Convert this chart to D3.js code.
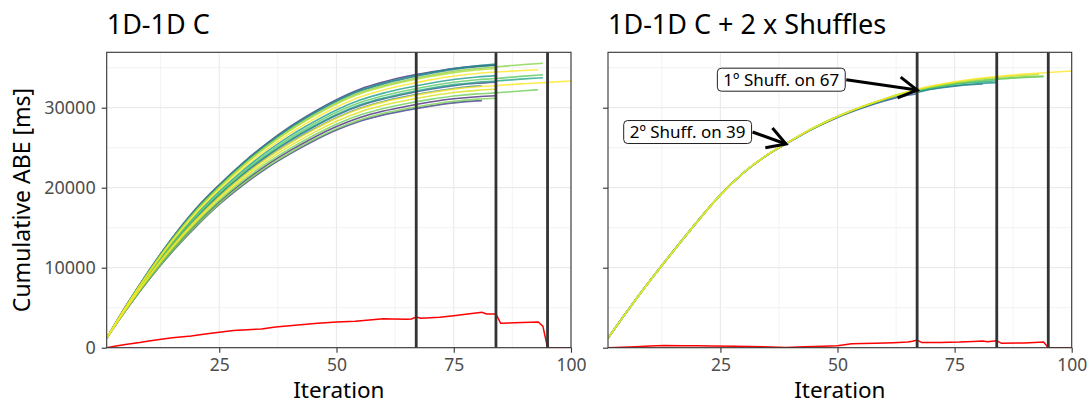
<!DOCTYPE html>
<html><head><meta charset="utf-8">
<script src="https://cdn.jsdelivr.net/npm/d3@7"></script>
<style>body{margin:0;background:#fff}svg{display:block;font-family:"Noto Sans",sans-serif}</style>
</head><body><svg id="c" width="1091" height="405"></svg>
<script>
// ---------------- DATA ----------------
const panelTitles = ["1D-1D C", "1D-1D C + 2 x Shuffles"];
const xLabel = "Iteration";
const yLabel = "Cumulative ABE [ms]";
const xTicks = [25, 50, 75, 100];
const xMinor = [12.5, 37.5, 62.5, 87.5];
const yTicks = [0, 10000, 20000, 30000];
const yMinor = [5000, 15000, 25000, 35000];
const shuffleIters = [67, 84, 95];

// iterations shared by the first part of every left series
const leftIters = [1,5,10,15,20,25,30,35,40,45,50,55,60,65,70,75,80];
const leftVals = [
  [1200,5115,9630,13750,17370,20370,23080,25490,27600,29410,31010,32320,33220,33920,34450,34900,35200],
  [1200,4660,8632,12204,15364,18188,20624,22760,24596,26220,27644,28768,29580,30192,30704,31116,31378],
  [1200,4600,8500,12000,15100,17900,20300,22400,24200,25800,27200,28300,29100,29700,30200,30600,30850],
  [1200,4850,9050,12850,16200,19100,21650,23900,25850,27550,29050,30250,31100,31750,32300,32750,33050],
  [1200,5085,9567,13649,17234,20228,22919,25310,27401,29195,30789,32083,32980,33677,34274,34771,35118],
  [1200,4810,8962,12714,16024,18908,21434,23660,25586,27270,28754,29938,30780,31422,31964,32406,32698],
  [1200,5100,9600,13700,17300,20300,23000,25400,27500,29300,30900,32200,33100,33800,34400,34900,35250],
  [1200,4940,9248,13156,16596,19532,22136,24440,26444,28180,29716,30952,31820,32488,33056,33524,33842],
  [1200,4865,9083,12901,16266,19172,21731,23990,25949,27655,29161,30367,31220,31873,32426,32879,33182],
  [1200,4900,9160,13020,16420,19340,21920,24200,26180,27900,29420,30640,31500,32160,32720,33180,33490],
  [1200,4700,8720,12340,15540,18380,20840,23000,24860,26500,27940,29080,29900,30520,31040,31460,31730],
  [1200,4625,8555,12085,15210,18020,20435,22550,24365,25975,27385,28495,29300,29905,30410,30815,31070],
  [1200,5060,9512,13564,17124,20108,22784,25160,27236,29020,30604,31888,32780,33472,34064,34556,34898],
  [1200,5040,9468,13496,17036,20012,22676,25040,27104,28880,30456,31732,32620,33308,33896,34384,34722],
  [1200,4750,8830,12510,15760,18620,21110,23300,25190,26850,28310,29470,30300,30930,31460,31890,32170],
  [1200,4990,9358,13326,16816,19772,22406,24740,26774,28530,30086,31342,32220,32898,33476,33954,34282],
  [1200,4800,8940,12680,15980,18860,21380,23600,25520,27200,28680,29860,30700,31340,31880,32320,32610]
];
// final [iteration, value] points of every left series
const leftTails = [
  [[84,35350]],
  [[84,31490]],
  [[81,30880]],
  [[84,33200]],
  [[84,35315]],
  [[81,32720]],
  [[84,35450]],
  [[84,34010]],
  [[84,33335],[85,33380],[90,33600],[94,33750]],
  [[84,33650],[85,33700],[90,33950],[94,34100]],
  [[84,31850],[85,31900],[90,32120],[93,32250]],
  [[84,31175]],
  [[84,35090],[85,35150],[90,35400],[94,35550]],
  [[84,34910]],
  [[84,32300]],
  [[84,34460],[85,34490],[90,34650],[93,34750]],
  [[84,32750],[85,32800],[90,33000],[95,33170],[100,33330]]
];
const leftColors = ["#482878","#472c7a","#414487","#3b528b","#2c728e","#26828e","#21918c","#1f9e89",
                    "#22a884","#5ec962","#6ece58","#7ad151","#86d549","#addc30","#d8e219","#fde725","#fde725"];

const rightIters = [1,5,10,15,20,25,30,35,40,45,50,55,60,65];
const rightVals = [
  [1200,4500,8430,12140,15740,19120,21900,24080,25800,27420,28780,29900,30850,31550],
  [1200,4490,8410,12110,15710,19110,21910,24100,25840,27480,28850,30000,30980,31780],
  [1200,4480,8400,12100,15700,19100,21900,24100,25850,27500,28870,30020,31000,31830],
  [1200,4470,8390,12090,15690,19090,21890,24090,25850,27510,28890,30060,31060,31920],
  [1200,4480,8400,12100,15700,19100,21900,24100,25850,27500,28880,30050,31050,31920],
  [1200,4490,8410,12110,15710,19100,21900,24100,25860,27510,28890,30070,31070,31950],
  [1200,4480,8400,12100,15700,19100,21910,24110,25860,27520,28900,30080,31090,31980],
  [1200,4480,8400,12100,15700,19100,21900,24110,25870,27520,28910,30090,31100,32000]
];
const rightTails = [
  [[67,31750]],
  [[67,31950],[70,32300],[75,32700],[80,32930],[81,32960]],
  [[67,32000],[70,32350],[75,32750],[80,33000],[84,33130]],
  [[67,32100],[70,32480],[75,32950],[80,33200],[84,33350]],
  [[67,32150],[70,32500],[75,32950],[80,33300],[84,33550],[90,33780],[94,33880]],
  [[67,32200],[70,32580],[75,33050],[80,33400],[84,33620],[90,33850],[94,33960]],
  [[67,32250],[70,32650],[75,33150],[80,33550],[84,33800],[90,34050],[93,34150]],
  [[67,32300],[70,32700],[75,33250],[80,33650],[84,33900],[90,34200],[95,34400],[100,34590]]
];
const rightColors = ["#3b528b","#2a788e","#21908d","#22a884","#5ec962","#7ad151","#b5de2b","#fde725"];

// red difference line
const leftRedIters = [1,3,5,8,10,13,15,19,22,25,28,31,34,37,40,43,46,50,54,57,60,62,65,66,67,68,72,75,78,81,82,84,85,88,93,94,95,100];
const leftRedVals  = [0,200,400,650,850,1100,1250,1450,1700,1920,2150,2250,2350,2600,2750,2900,3050,3200,3300,3450,3620,3580,3550,3600,3830,3680,3800,4000,4200,4420,4220,4220,3050,3120,3220,2700,0,0];
const rightRedIters = [1,4,7,10,13,17,20,23,28,34,39,43,47,50,53,58,62,65,66,67,68,72,76,79,81,82,84,85,90,94,95,100];
const rightRedVals  = [0,60,130,220,290,250,240,210,170,120,30,120,180,250,480,560,620,700,800,960,640,650,700,780,830,750,880,550,590,720,0,0];

const annotTexts = ["1º Shuff. on 67", "2º Shuff. on 39"];
const annotIters = [67, 39];
const annotValues = [32200, 25460];

// ---------------- LAYOUT ----------------
const yTop = 52.3, yBot = 347.7, yMax = 36925;
const labelPos = [[38, 33500], [18, 26960]]; // label centres in data units
const panels = [
  {x0: 106.7, x1: 571, iters: leftIters, vals: leftVals, tails: leftTails, colors: leftColors,
   redI: leftRedIters, redV: leftRedVals, yLabels: true, annot: false},
  {x0: 608, x1: 1071.7, iters: rightIters, vals: rightVals, tails: rightTails, colors: rightColors,
   redI: rightRedIters, redV: rightRedVals, yLabels: false, annot: true}
];

const svg = d3.select("#c");
const grid = "#ebebeb", dark = "#333333", tickTxt = "#4d4d4d";

panels.forEach((p, pi) => {
  const x = d3.scaleLinear().domain([1, 100]).range([p.x0, p.x1]);
  const y = d3.scaleLinear().domain([0, yMax]).range([yBot, yTop]);
  const g = svg.append("g");
  const clipId = "clip" + pi;
  svg.append("clipPath").attr("id", clipId).append("rect")
    .attr("x", p.x0).attr("y", yTop).attr("width", p.x1 - p.x0).attr("height", yBot - yTop);

  // grid
  g.selectAll(".xm").data(xMinor).join("line").attr("x1", d => x(d)).attr("x2", d => x(d))
    .attr("y1", yTop).attr("y2", yBot).attr("stroke", grid).attr("stroke-width", 0.6);
  g.selectAll(".ym").data(yMinor).join("line").attr("y1", d => y(d)).attr("y2", d => y(d))
    .attr("x1", p.x0).attr("x2", p.x1).attr("stroke", grid).attr("stroke-width", 0.6);
  g.selectAll(".xM").data(xTicks).join("line").attr("x1", d => x(d)).attr("x2", d => x(d))
    .attr("y1", yTop).attr("y2", yBot).attr("stroke", grid).attr("stroke-width", 1.2);
  g.selectAll(".yM").data(yTicks).join("line").attr("y1", d => y(d)).attr("y2", d => y(d))
    .attr("x1", p.x0).attr("x2", p.x1).attr("stroke", grid).attr("stroke-width", 1.2);

  const plot = g.append("g").attr("clip-path", `url(#${clipId})`);
  const line = d3.line().x(d => x(d[0])).y(d => y(d[1])).curve(d3.curveMonotoneX);
  p.vals.forEach((vals, si) => {
    const pts = p.iters.map((it, k) => [it, vals[k]]).concat(p.tails[si]);
    plot.append("path").attr("d", line(pts)).attr("fill", "none")
      .attr("stroke", p.colors[si]).attr("stroke-width", 1.6).attr("stroke-opacity", 0.8);
  });
  const redLine = d3.line().x(d => x(d[0])).y(d => y(d[1]));
  plot.append("path").attr("d", redLine(p.redI.map((it, k) => [it, p.redV[k]])))
    .attr("fill", "none").attr("stroke", "#ff0000").attr("stroke-width", 1.5);

  plot.selectAll(".vl").data(shuffleIters).join("line")
    .attr("x1", d => x(d)).attr("x2", d => x(d)).attr("y1", yTop).attr("y2", yBot)
    .attr("stroke", dark).attr("stroke-width", 2.8);

  // border
  g.append("rect").attr("x", p.x0).attr("y", yTop).attr("width", p.x1 - p.x0).attr("height", yBot - yTop)
    .attr("fill", "none").attr("stroke", dark).attr("stroke-width", 1.1);

  // axes
  const ax = g.append("g").attr("transform", `translate(0,${yBot})`)
    .call(d3.axisBottom(x).tickValues(xTicks).tickSize(5).tickPadding(6));
  ax.select(".domain").remove();
  ax.selectAll("line").attr("stroke", dark).attr("stroke-width", 1.1);
  ax.selectAll("text").attr("fill", tickTxt).style("font-size", "17.5px").style("font-family", '"Noto Sans"');

  const ay = g.append("g").attr("transform", `translate(${p.x0},0)`)
    .call(d3.axisLeft(y).tickValues(yTicks).tickSize(5).tickPadding(6).tickFormat(p.yLabels ? d3.format("d") : () => ""));
  ay.select(".domain").remove();
  ay.selectAll("line").attr("stroke", dark).attr("stroke-width", 1.1);
  ay.selectAll("text").attr("fill", tickTxt).style("font-size", "18px").style("font-family", '"Noto Sans"');

  // titles
  svg.append("text").attr("x", p.x0).attr("y", 33.5).text(panelTitles[pi])
    .style("font-size", "27px").attr("fill", "#000");
  svg.append("text").attr("x", (p.x0 + p.x1) / 2).attr("y", 398).attr("text-anchor", "middle")
    .text(xLabel).style("font-size", "22.5px").attr("fill", "#000");

  if (p.annot) {
    annotTexts.forEach((t, k) => {
      const cx = x(labelPos[k][0]), cy = y(labelPos[k][1]);
      const ag = svg.append("g");
      const txt = ag.append("text").attr("x", cx).attr("y", cy).attr("text-anchor", "middle")
        .attr("dy", "0.36em").text(t).style("font-size", "17px").attr("fill", "#000");
      const bb = txt.node().getBBox();
      const bw = bb.width + 12, bh = 23;
      ag.insert("rect", "text").attr("x", cx - bw / 2).attr("y", cy - bh / 2).attr("width", bw).attr("height", bh)
        .attr("rx", 4).attr("fill", "#fff").attr("stroke", "#222").attr("stroke-width", 1);
      const sx = cx + bw / 2 + 1, sy = cy;
      const tx = x(annotIters[k]), ty = y(annotValues[k]);
      const ang = Math.atan2(ty - sy, tx - sx), L = 21, a = Math.PI / 6;
      const h1 = [tx - L * Math.cos(ang - a), ty - L * Math.sin(ang - a)];
      const h2 = [tx - L * Math.cos(ang + a), ty - L * Math.sin(ang + a)];
      ag.append("line").attr("x1", sx).attr("y1", sy).attr("x2", tx).attr("y2", ty)
        .attr("stroke", "#000").attr("stroke-width", 3);
      ag.append("path").attr("d", `M${h1[0]},${h1[1]}L${tx},${ty}L${h2[0]},${h2[1]}`)
        .attr("fill", "none").attr("stroke", "#000").attr("stroke-width", 3);
    });
  }
});

svg.append("text").attr("transform", `translate(30,${(yTop + yBot) / 2}) rotate(-90)`)
  .attr("text-anchor", "middle").text(yLabel).style("font-size", "23px").attr("fill", "#000");
</script></body></html>
